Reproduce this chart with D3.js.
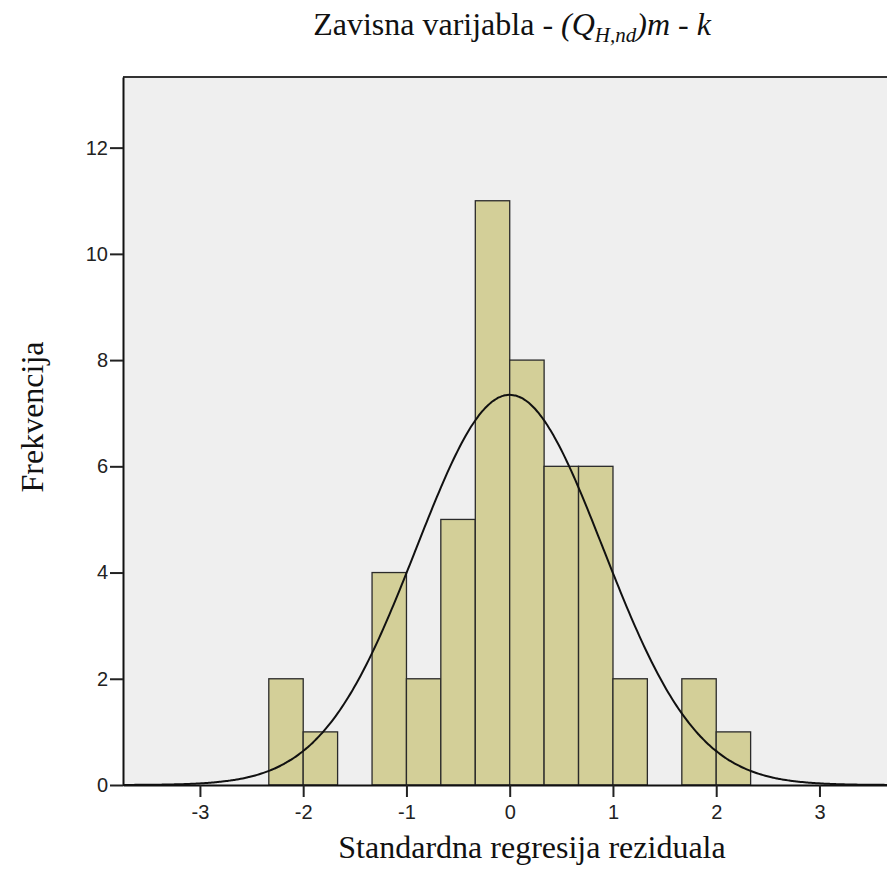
<!DOCTYPE html>
<html>
<head>
<meta charset="utf-8">
<script src="https://cdn.jsdelivr.net/npm/d3@7"></script>
<style>
  body { margin: 0; background: #fff; }
  .axis-label { font-family: "Liberation Serif", "Times New Roman", serif; font-size: 32px; fill: #111; }
</style>
</head>
<body>
<div id="chart"></div>
<script>
// Histogram of standardized residuals
const binStarts = [-2.333, -2.0, -1.333, -1.0, -0.667, -0.333, 0.0, 0.333, 0.667, 1.0, 1.667, 2.0];
const binWidth = 0.3333;
const counts = [2, 1, 4, 2, 5, 11, 8, 6, 6, 2, 2, 1];
const xTicks = [-3, -2, -1, 0, 1, 2, 3];
const yTicks = [0, 2, 4, 6, 8, 10, 12];

// fitted normal curve parameters
const mean = 0.0;
const stdDev = 0.905;
const N = 50;

const W = 887, H = 876;
const plot = { left: 123, right: 900, top: 77, bottom: 785 };

const svg = d3.select("#chart").append("svg")
    .attr("width", W)
    .attr("height", H);

const x = d3.scaleLinear().domain([-3.745, 3.78]).range([plot.left, plot.right]);
const y = d3.scaleLinear().domain([0, 13.33]).range([plot.bottom, plot.top]);

// Plot background
svg.append("rect")
    .attr("x", plot.left).attr("y", plot.top)
    .attr("width", plot.right - plot.left).attr("height", plot.bottom - plot.top)
    .attr("fill", "#efefef");

// Bars
svg.selectAll(".bar")
    .data(binStarts.map((s, i) => ({ x0: s, x1: s + binWidth, n: counts[i] })))
    .enter()
    .append("rect")
    .attr("class", "bar")
    .attr("x", d => x(d.x0))
    .attr("y", d => y(d.n))
    .attr("width", d => x(d.x1) - x(d.x0))
    .attr("height", d => y(0) - y(d.n))
    .attr("fill", "#d3cf98")
    .attr("stroke", "#2a2a2a")
    .attr("stroke-width", 1.3);

// Normal curve
const curvePts = d3.range(-3.745, 3.8, 0.02).map(v => [v,
    N * binWidth / (stdDev * Math.sqrt(2 * Math.PI)) * Math.exp(-((v - mean) ** 2) / (2 * stdDev * stdDev))]);

svg.append("path")
    .datum(curvePts)
    .attr("fill", "none")
    .attr("stroke", "#111")
    .attr("stroke-width", 2)
    .attr("d", d3.line().x(d => x(d[0])).y(d => y(d[1])).curve(d3.curveBasis));

// Frame line on top
svg.append("line")
    .attr("x1", plot.left).attr("x2", plot.right)
    .attr("y1", plot.top).attr("y2", plot.top)
    .attr("stroke", "#333").attr("stroke-width", 2);

// Axes
const xAxis = svg.append("g")
    .attr("transform", `translate(0,${plot.bottom})`)
    .call(d3.axisBottom(x).tickValues(xTicks).tickFormat(d => String(d))
        .tickSize(12).tickPadding(8).tickSizeOuter(0));

const yAxis = svg.append("g")
    .attr("transform", `translate(${plot.left},0)`)
    .call(d3.axisLeft(y).tickValues(yTicks).tickFormat(d => String(d))
        .tickSize(13).tickPadding(2).tickSizeOuter(0));

[xAxis, yAxis].forEach(g => {
    g.attr("font-family", "'Liberation Sans', Arial, sans-serif").attr("font-size", 20);
    g.select(".domain").attr("stroke", "#111").attr("stroke-width", 2);
    g.selectAll(".tick line").attr("stroke", "#222").attr("stroke-width", 2);
    g.selectAll(".tick text").attr("fill", "#222");
});

// Title
const title = svg.append("text")
    .attr("class", "axis-label")
    .attr("x", 512)
    .attr("y", 35)
    .attr("text-anchor", "middle");
title.append("tspan").text("Zavisna varijabla - ");
title.append("tspan").attr("font-style", "italic").text("(Q");
title.append("tspan").attr("font-style", "italic").attr("font-size", "21px").attr("dy", 7).text("H,nd");
title.append("tspan").attr("font-style", "italic").attr("dy", -7).text(")m - k");

// X label
svg.append("text")
    .attr("class", "axis-label")
    .attr("x", 532)
    .attr("y", 858)
    .attr("text-anchor", "middle")
    .text("Standardna regresija reziduala");

// Y label
svg.append("text")
    .attr("class", "axis-label")
    .attr("transform", "translate(43,417) rotate(-90)")
    .attr("text-anchor", "middle")
    .text("Frekvencija");
</script>
</body>
</html>
